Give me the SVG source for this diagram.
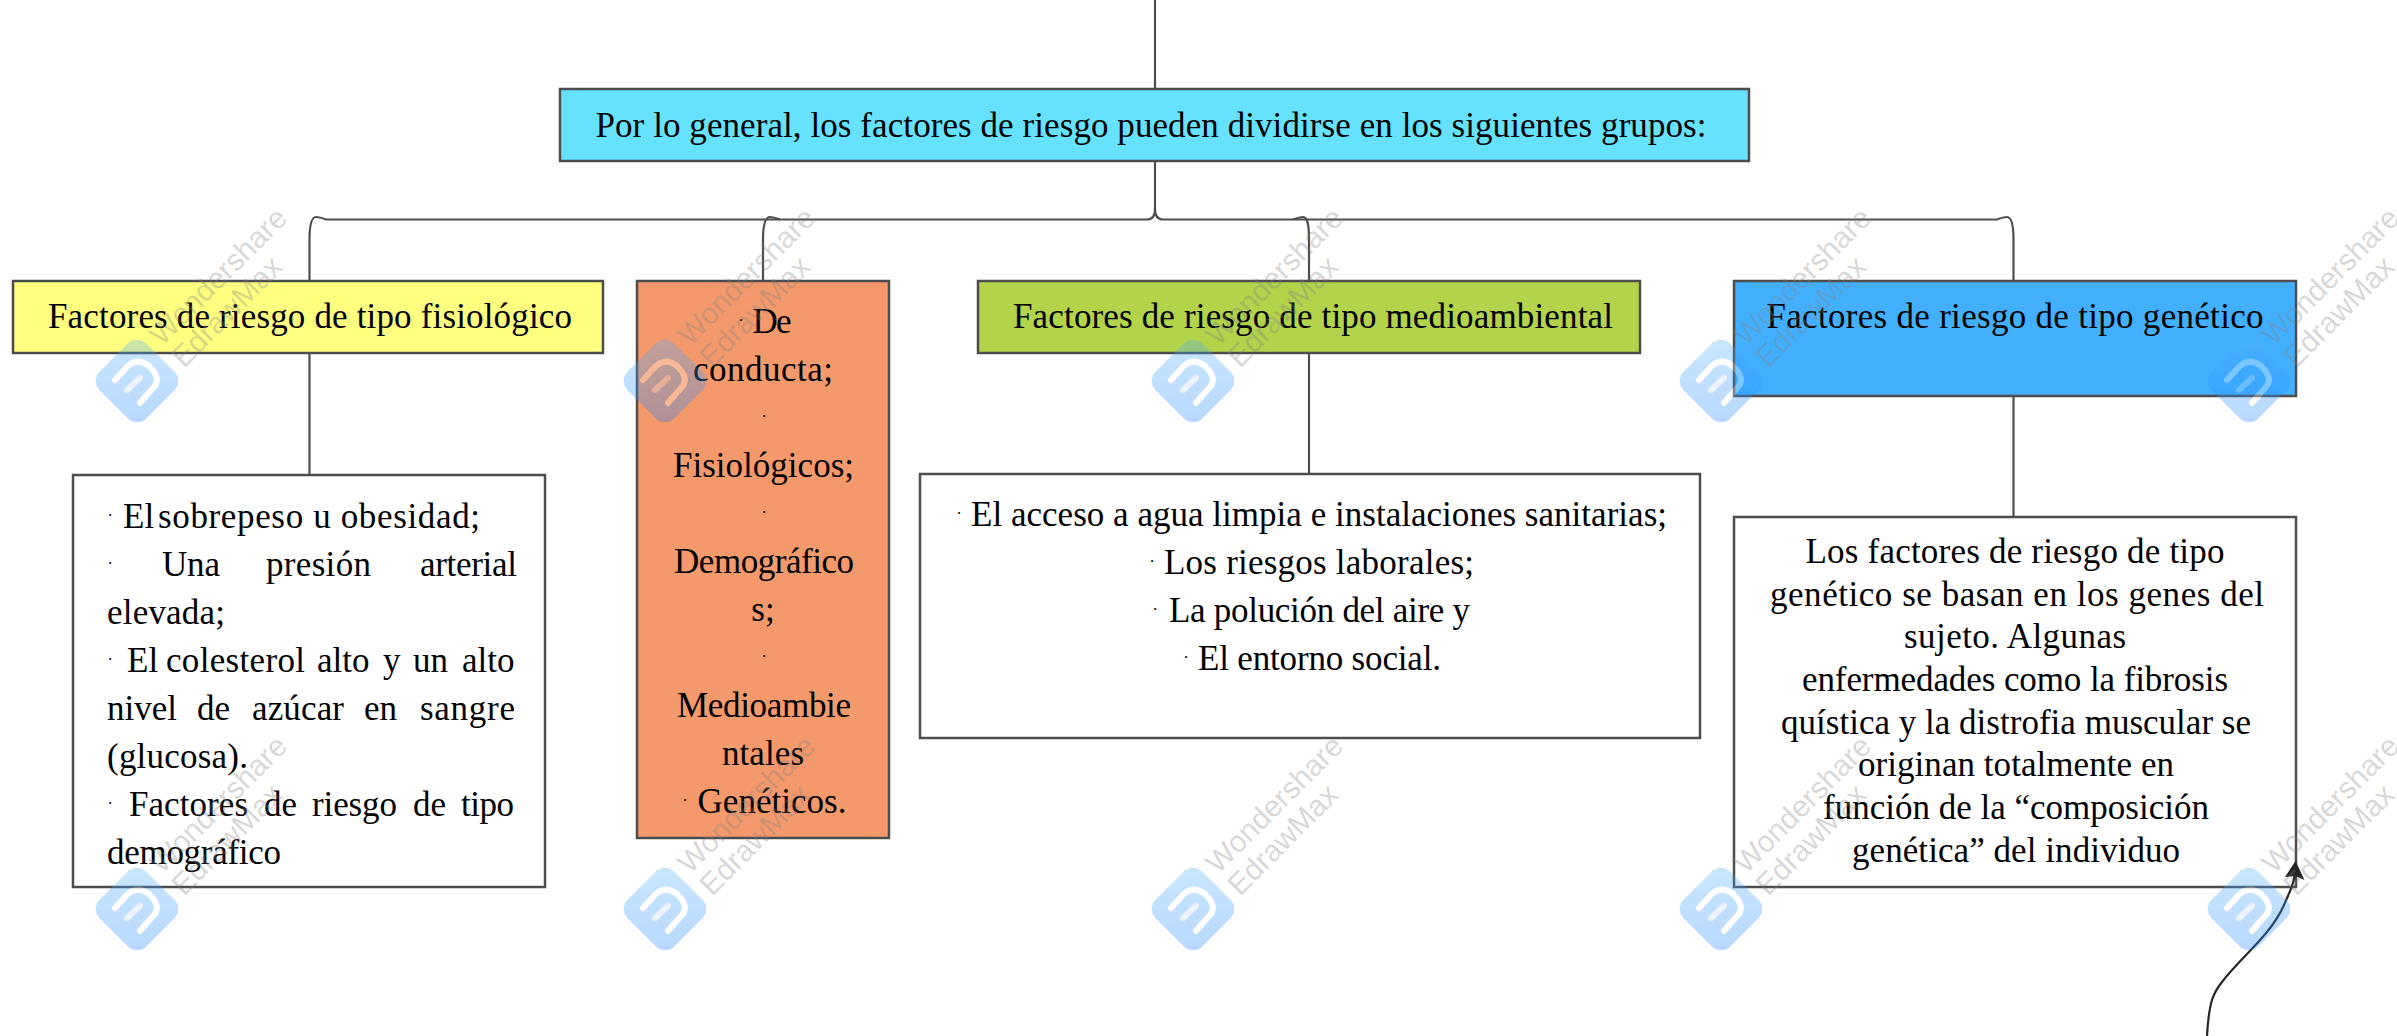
<svg xmlns="http://www.w3.org/2000/svg" width="2397" height="1036" viewBox="0 0 2397 1036">
<style>
.box{stroke:#4d4d4d;stroke-width:2.5}
.t{font-family:"Liberation Serif","Times New Roman",serif;font-size:35px;fill:#000}
.m{text-anchor:middle}
.dot{font-family:"Liberation Serif","Times New Roman",serif;font-size:17px;fill:#000;text-anchor:middle}
.c{fill:none;stroke:#4d4d4d;stroke-width:2.2}
.wm{font-family:"Liberation Sans",Arial,sans-serif;font-size:30px;fill:#808080;fill-opacity:.33}
</style>
<defs>
<linearGradient id="lg" x1="0" y1="0" x2="1" y2="1"><stop offset="0" stop-color="#55b2ff"/><stop offset="1" stop-color="#127dff"/></linearGradient>
<g id="logo" opacity=".3">
<rect x="-33" y="-33" width="66" height="66" rx="13" transform="rotate(45)" fill="url(#lg)"/>
<path d="M-22 -1 L-9 -15 Q2 -24 13 -14 Q25 -2 16 7 L3 22" fill="none" stroke="#fff" stroke-width="6" stroke-linecap="round"/>
<path d="M-10 9 L3 -3" fill="none" stroke="#fff" stroke-opacity=".7" stroke-width="6" stroke-linecap="round"/>
</g>
</defs>

<g id="root">
<rect class="box" x="560" y="89" width="1189" height="72" fill="#66e2ff"/>
<text class="t m" x="1151" y="137" textLength="1111">Por lo general, los factores de riesgo pueden dividirse en los siguientes grupos:</text>
</g>

<g id="n-fisiologico">
<rect class="box" x="13" y="281" width="590" height="72" fill="#ffff80"/>
<text class="t m" x="310" y="328" textLength="524">Factores de riesgo de tipo fisiológico</text>
</g>

<g id="n-grupos">
<rect class="box" x="637" y="281" width="252" height="557" fill="#f4996b"/>
<text class="dot" x="741" y="326">·</text>
<text class="t m" x="772" y="333" textLength="39">De</text>
<text class="t m" x="763" y="381" textLength="140">conducta;</text>
<text class="dot" x="764" y="422">·</text>
<text class="t m" x="763.5" y="477" textLength="181">Fisiológicos;</text>
<text class="dot" x="764" y="518">·</text>
<text class="t m" x="764" y="573" textLength="180">Demográfico</text>
<text class="t m" x="763" y="621">s;</text>
<text class="dot" x="764" y="662">·</text>
<text class="t m" x="764" y="717" textLength="174">Medioambie</text>
<text class="t m" x="763" y="765" textLength="82">ntales</text>
<text class="dot" x="685" y="806">·</text>
<text class="t m" x="772" y="813" textLength="149">Genéticos.</text>
</g>

<g id="n-medioambiental">
<rect class="box" x="978" y="281" width="662" height="72" fill="#b2d34a"/>
<text class="t m" x="1313" y="328" textLength="600">Factores de riesgo de tipo medioambiental</text>
</g>

<g id="n-genetico">
<rect class="box" x="1734" y="281" width="562" height="115" fill="#42b0ff"/>
<text class="t m" x="2015" y="328" textLength="497">Factores de riesgo de tipo genético</text>
</g>

<g id="n-fisiologico-detalle">
<rect class="box" x="73" y="475" width="472" height="412" fill="#fff"/>
<text class="dot" x="110" y="521">·</text>
<text class="t" x="123" y="528">El</text><text class="t" x="158" y="528" textLength="322">sobrepeso u obesidad;</text>
<text class="dot" x="110" y="569">·</text>
<text class="t" x="162" y="576" textLength="58">Una</text><text class="t" x="266" y="576" textLength="105">presión</text><text class="t" x="420" y="576" textLength="97">arterial</text>
<text class="t" x="107" y="624" textLength="118">elevada;</text>
<text class="dot" x="110" y="665">·</text>
<text class="t" x="127" y="672">El</text><text class="t" x="166" y="672" textLength="139">colesterol</text><text class="t" x="317" y="672">alto</text><text class="t" x="383" y="672">y</text><text class="t" x="413" y="672">un</text><text class="t" x="462" y="672">alto</text>
<text class="t" x="107" y="720" textLength="70">nivel</text><text class="t" x="197" y="720">de</text><text class="t" x="252" y="720" textLength="92">azúcar</text><text class="t" x="364" y="720">en</text><text class="t" x="420" y="720" textLength="95">sangre</text>
<text class="t" x="107" y="768" textLength="141">(glucosa).</text>
<text class="dot" x="110" y="809">·</text>
<text class="t" x="129" y="816" textLength="119">Factores</text><text class="t" x="264" y="816">de</text><text class="t" x="312" y="816" textLength="85">riesgo</text><text class="t" x="413" y="816">de</text><text class="t" x="461" y="816" textLength="53">tipo</text>
<text class="t" x="107" y="864" textLength="174">demográfico</text>
</g>

<g id="n-medioambiental-detalle">
<rect class="box" x="920" y="474" width="780" height="264" fill="#fff"/>
<text class="dot" x="959" y="519">·</text>
<text class="t" x="971" y="526" textLength="696">El acceso a agua limpia e instalaciones sanitarias;</text>
<text class="dot" x="1152" y="567">·</text>
<text class="t" x="1164" y="574" textLength="310">Los riesgos laborales;</text>
<text class="dot" x="1155" y="615">·</text>
<text class="t" x="1169" y="622" textLength="301">La polución del aire y</text>
<text class="dot" x="1186" y="663">·</text>
<text class="t" x="1198" y="670" textLength="243">El entorno social.</text>
</g>

<g id="n-genetico-detalle">
<rect class="box" x="1734" y="517" width="562" height="370" fill="#fff"/>
<text class="t m" x="2015" y="563" textLength="419">Los factores de riesgo de tipo</text>
<text class="t m" x="2017" y="606" textLength="494">genético se basan en los genes del</text>
<text class="t m" x="2015" y="648" textLength="222">sujeto. Algunas</text>
<text class="t m" x="2015" y="691" textLength="426">enfermedades como la fibrosis</text>
<text class="t m" x="2016" y="734" textLength="470">quística y la distrofia muscular se</text>
<text class="t m" x="2016" y="776" textLength="316">originan totalmente en</text>
<text class="t m" x="2016" y="819" textLength="386">función de la “composición</text>
<text class="t m" x="2016" y="862" textLength="328">genética” del individuo</text>
</g>

<g id="connectors">
<path class="c" d="M1155 0 V88"/>
<path class="c" d="M1155 161 V209 C1155 215 1153 219.5 1147 219.5 H326 C322 218 319 217 316 217 C311 217 309.5 226 309.5 240 V280"/>
<path class="c" d="M1155 209 C1155 215 1157 219.5 1163 219.5 H1997 C2001 218 2004 217 2007 217 C2012 217 2013.5 226 2013.5 240 V280"/>
<path class="c" d="M780 219.5 C776 218 773 217 770 217 C765 217 763 226 763 240 V280"/>
<path class="c" d="M1293 219.5 C1297 218 1300 217 1303 217 C1308 217 1309 226 1309 240 V280"/>
<path class="c" d="M309.5 353 V475"/>
<path class="c" d="M1309 353 V474"/>
<path class="c" d="M2013.5 396 V517"/>
<path d="M2207 1036 C2209 1000 2214 992 2222 982 C2240 958 2271 935 2284 905 C2291 889 2293 885 2295 874" fill="none" stroke="#262626" stroke-width="2.2"/>
<path d="M2295.5 861 L2304.5 880 L2295 876 L2285 877 Z" fill="#262626"/>
</g>

<g id="watermark">
<use href="#logo" x="137" y="381"/><use href="#logo" x="665" y="381"/><use href="#logo" x="1193" y="381"/><use href="#logo" x="1721" y="381"/><use href="#logo" x="2249" y="381"/>
<use href="#logo" x="137" y="909"/><use href="#logo" x="665" y="909"/><use href="#logo" x="1193" y="909"/><use href="#logo" x="1721" y="909"/><use href="#logo" x="2249" y="909"/>
<g transform="translate(162 347) rotate(-45)"><text class="wm">Wondershare</text><text class="wm" y="31">EdrawMax</text></g>
<g transform="translate(690 347) rotate(-45)"><text class="wm">Wondershare</text><text class="wm" y="31">EdrawMax</text></g>
<g transform="translate(1218 347) rotate(-45)"><text class="wm">Wondershare</text><text class="wm" y="31">EdrawMax</text></g>
<g transform="translate(1746 347) rotate(-45)"><text class="wm">Wondershare</text><text class="wm" y="31">EdrawMax</text></g>
<g transform="translate(2274 347) rotate(-45)"><text class="wm">Wondershare</text><text class="wm" y="31">EdrawMax</text></g>
<g transform="translate(162 875) rotate(-45)"><text class="wm">Wondershare</text><text class="wm" y="31">EdrawMax</text></g>
<g transform="translate(690 875) rotate(-45)"><text class="wm">Wondershare</text><text class="wm" y="31">EdrawMax</text></g>
<g transform="translate(1218 875) rotate(-45)"><text class="wm">Wondershare</text><text class="wm" y="31">EdrawMax</text></g>
<g transform="translate(1746 875) rotate(-45)"><text class="wm">Wondershare</text><text class="wm" y="31">EdrawMax</text></g>
<g transform="translate(2274 875) rotate(-45)"><text class="wm">Wondershare</text><text class="wm" y="31">EdrawMax</text></g>
</g>
</svg>
